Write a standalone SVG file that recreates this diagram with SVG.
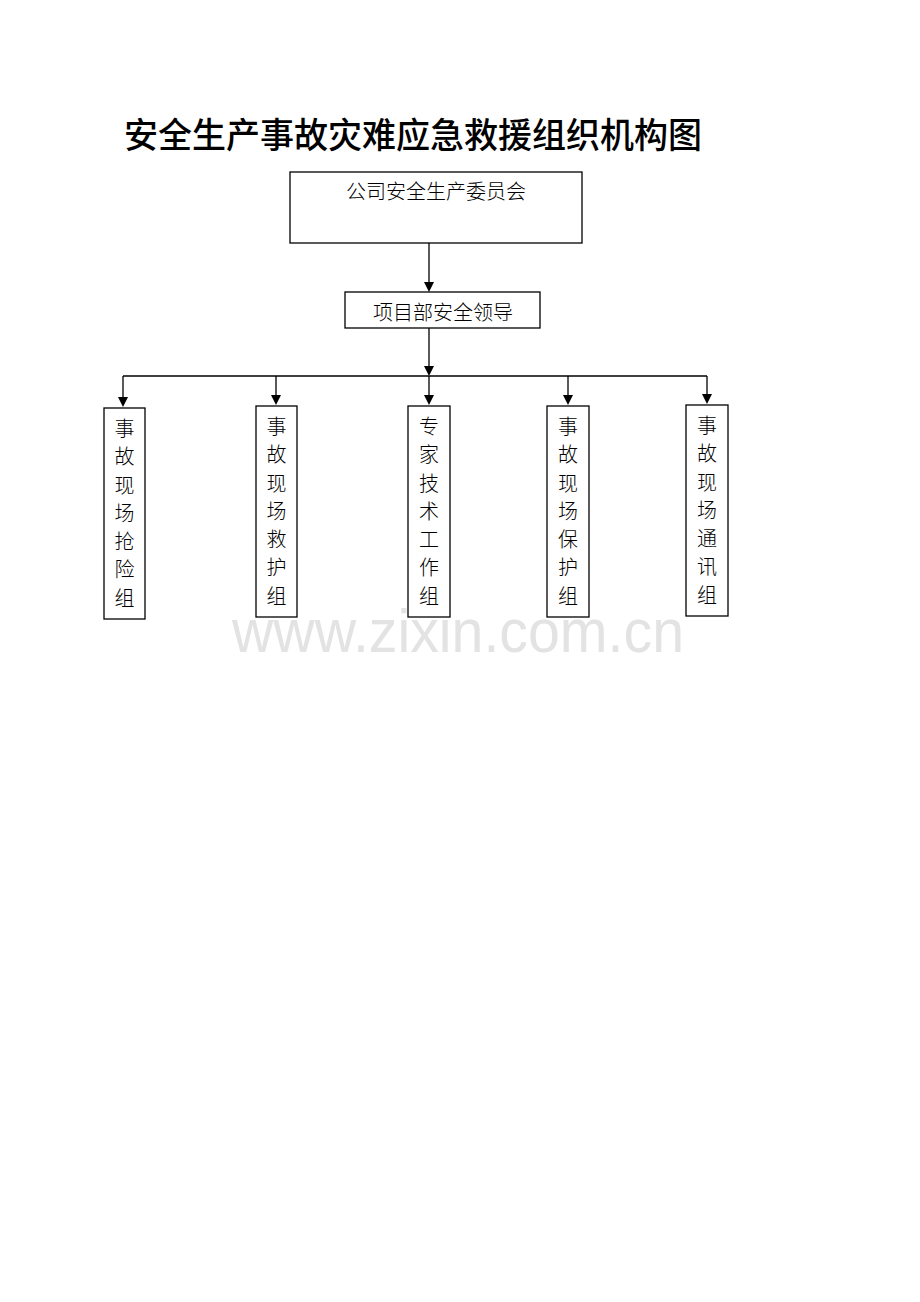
<svg xmlns="http://www.w3.org/2000/svg" width="920" height="1302" viewBox="0 0 920 1302">
<style>
.box{fill:#fff;stroke:#000;stroke-width:1.3}
.t{font-family:"Noto Sans CJK SC","Noto Sans",sans-serif;font-size:20px;font-weight:300;fill:#000;text-anchor:middle}
.ln{stroke:#000;stroke-width:1.3;fill:none}
</style>
<rect width="920" height="1302" fill="#fff"/>
<text x="232" y="652" font-family="Liberation Sans,Arial,sans-serif" font-size="62" fill="#e3e3e3" textLength="452" lengthAdjust="spacingAndGlyphs">www.zixin.com.cn</text>
<text x="124" y="148" font-family="Noto Sans CJK SC,sans-serif" font-size="35" font-weight="500" fill="#000" textLength="578" lengthAdjust="spacingAndGlyphs">安全生产事故灾难应急救援组织机构图</text>
<g id="connectors">
<path class="ln" d="M429,243 V282"/><path d="M424,282 L434,282 L429,292 Z"/>
<path class="ln" d="M429,328 V366"/><path d="M424,366 L434,366 L429,376 Z"/>
<path class="ln" d="M123,376 H707"/>
<path class="ln" d="M123,376 V398"/><path d="M118,397 L128,397 L123,407 Z"/>
<path class="ln" d="M276,376 V396"/><path d="M271,395 L281,395 L276,405 Z"/>
<path class="ln" d="M429,376 V396"/><path d="M424,395 L434,395 L429,405 Z"/>
<path class="ln" d="M568,376 V396"/><path d="M563,395 L573,395 L568,405 Z"/>
<path class="ln" d="M707,376 V395"/><path d="M702,394 L712,394 L707,404 Z"/>
</g>
<g id="n1"><rect class="box" x="290" y="172" width="292" height="71"/><text class="t" x="436" y="199">公司安全生产委员会</text></g>
<g id="n2"><rect class="box" x="345" y="292" width="195" height="36"/><text class="t" x="443" y="320">项目部安全领导</text></g>
<g id="g1"><rect class="box" x="104" y="408" width="41" height="211"/>
<text class="t" x="124.5"><tspan x="124.5" y="436">事</tspan><tspan x="124.5" y="464">故</tspan><tspan x="124.5" y="493">现</tspan><tspan x="124.5" y="521">场</tspan><tspan x="124.5" y="549">抢</tspan><tspan x="124.5" y="577">险</tspan><tspan x="124.5" y="606">组</tspan></text></g>
<g id="g2"><rect class="box" x="256" y="406" width="41" height="211"/>
<text class="t" x="276.5"><tspan x="276.5" y="434">事</tspan><tspan x="276.5" y="462">故</tspan><tspan x="276.5" y="491">现</tspan><tspan x="276.5" y="519">场</tspan><tspan x="276.5" y="547">救</tspan><tspan x="276.5" y="575">护</tspan><tspan x="276.5" y="604">组</tspan></text></g>
<g id="g3"><rect class="box" x="408" y="406" width="42" height="211"/>
<text class="t" x="429"><tspan x="429" y="434">专</tspan><tspan x="429" y="462">家</tspan><tspan x="429" y="491">技</tspan><tspan x="429" y="519">术</tspan><tspan x="429" y="547">工</tspan><tspan x="429" y="575">作</tspan><tspan x="429" y="604">组</tspan></text></g>
<g id="g4"><rect class="box" x="547" y="406" width="42" height="211"/>
<text class="t" x="568"><tspan x="568" y="434">事</tspan><tspan x="568" y="462">故</tspan><tspan x="568" y="491">现</tspan><tspan x="568" y="519">场</tspan><tspan x="568" y="547">保</tspan><tspan x="568" y="575">护</tspan><tspan x="568" y="604">组</tspan></text></g>
<g id="g5"><rect class="box" x="686" y="405" width="42" height="211"/>
<text class="t" x="707"><tspan x="707" y="433">事</tspan><tspan x="707" y="461">故</tspan><tspan x="707" y="490">现</tspan><tspan x="707" y="518">场</tspan><tspan x="707" y="546">通</tspan><tspan x="707" y="574">讯</tspan><tspan x="707" y="603">组</tspan></text></g>
</svg>
